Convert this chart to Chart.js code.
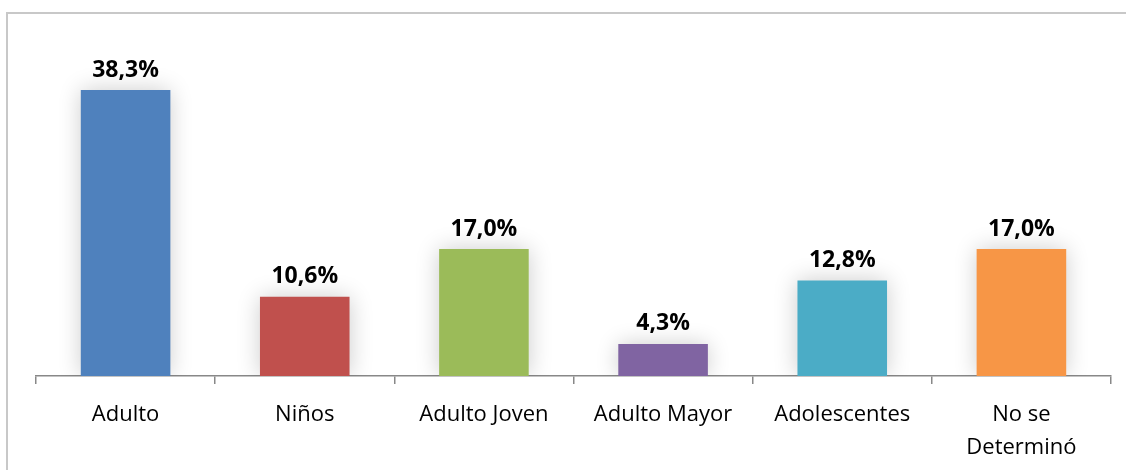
<!DOCTYPE html>
<html><head><meta charset="utf-8">
<script src="https://cdn.jsdelivr.net/npm/chart.js@4/dist/chart.umd.min.js"></script>
<style>
html,body{margin:0;padding:0;background:#fff;overflow:hidden;}
#wrap{position:absolute;left:0;top:0;width:1126px;height:470px;}
#frame{position:absolute;left:6px;top:12px;width:1200px;height:600px;border-top:2px solid #c8c8c8;border-left:2px solid #c8c8c8;box-sizing:border-box;}
canvas{position:absolute;left:0;top:0;}
</style></head>
<body><div id="wrap"><div id="frame"></div><canvas id="c" width="1126" height="470"></canvas></div>
<script>
const categories = ["Adulto", "Niños", "Adulto Joven", "Adulto Mayor", "Adolescentes", ["No se", "Determinó"]];
const values = [38.3, 10.6, 17.0, 4.3, 12.8, 17.0];
const barColors = ["#4F81BD", "#C0504D", "#9BBB59", "#8064A2", "#4BACC6", "#F79646"];
const yMax = 45;

const shadowPlugin = {
  id: 'shadow',
  beforeDatasetsDraw(chart) {
    const ctx = chart.ctx;
    ctx.save();
    ctx.shadowColor = 'rgba(0,0,0,0.2)';
    ctx.shadowBlur = 22;
    ctx.shadowOffsetX = 0;
    ctx.shadowOffsetY = 0;
  },
  afterDatasetsDraw(chart) {
    chart.ctx.restore();
  }
};
const labelPlugin = {
  id: 'vlabels',
  afterDatasetsDraw(chart) {
    const ctx = chart.ctx;
    const meta = chart.getDatasetMeta(0);
    ctx.save();
    ctx.font = 'bold 23px "Open Sans"';
    ctx.fillStyle = '#000';
    ctx.textAlign = 'center';
    ctx.textBaseline = 'middle';
    meta.data.forEach((bar, i) => {
      ctx.fillText(values[i].toFixed(1).replace('.', ',') + '%', bar.x, bar.y - 20);
    });
    ctx.restore();
  }
};

new Chart(document.getElementById('c'), {
  type: 'bar',
  data: { labels: categories, datasets: [{ data: values, backgroundColor: barColors, barPercentage: 0.5, categoryPercentage: 1.0 }] },
  options: {
    responsive: false, animation: false,
    layout: { padding: { left: 36, right: 15, top: 40, bottom: 0 } },
    plugins: { legend: { display: false }, tooltip: { enabled: false } },
    scales: {
      x: {
        grid: { display: true, drawOnChartArea: false, offset: true, tickLength: 8, color: '#888', lineWidth: 1.5 },
        border: { color: '#888', width: 1.5 },
        ticks: { color: '#000', font: { family: '"Open Sans"', size: 22, lineHeight: 1.5 }, padding: 14, maxRotation: 0, autoSkip: false },
        afterFit(scale) { scale.height = 94; }
      },
      y: { display: false, min: 0, max: yMax }
    }
  },
  plugins: [shadowPlugin, labelPlugin]
});
</script></body></html>
